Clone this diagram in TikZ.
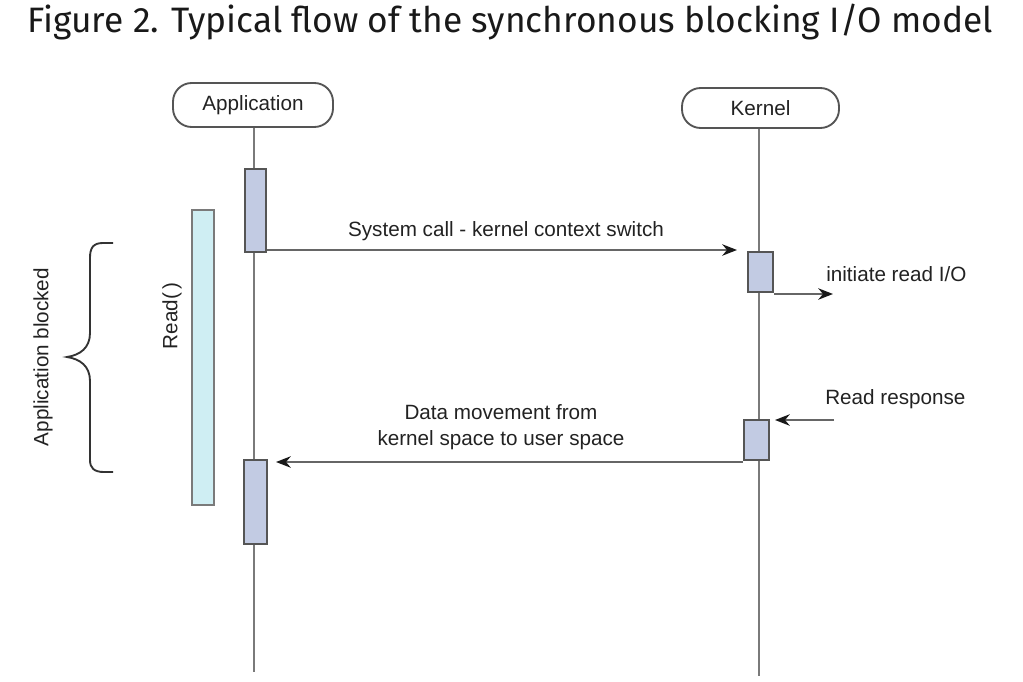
\documentclass[tikz,border=0pt]{standalone}
\usepackage{fontspec}
\setmainfont{Liberation Sans}
\newfontfamily\titlefont{Fira Sans}
\usetikzlibrary{arrows.meta}
\definecolor{actfill}{HTML}{C2CBE3}
\definecolor{actdraw}{HTML}{555555}
\definecolor{readfill}{HTML}{CFEEF3}
\definecolor{linegray}{HTML}{7A7A7A}
\definecolor{arrgray}{HTML}{666666}
\definecolor{txt}{HTML}{222222}
\tikzset{
  header/.style={draw=actdraw, line width=1.4pt, rounded corners=14pt, inner sep=0pt, text=txt, font=\fontsize{15.5}{18}\selectfont},
  act/.style={draw=actdraw, fill=actfill, line width=1.5pt, inner sep=0pt},
  readbar/.style={draw=linegray, fill=readfill, line width=1.5pt, inner sep=0pt},
  lifeline/.style={draw=linegray, line width=2pt},
  msg/.style={draw=arrgray, line width=2pt, -{Stealth[length=11pt,width=8.5pt,inset=3.5pt,color=black!90]}},
  lbl/.style={text=txt, inner sep=0pt, font=\fontsize{15.5}{19}\selectfont},
}
\begin{document}
\begin{tikzpicture}[x=0.75pt,y=-0.75pt]
\useasboundingbox (0,0) rectangle (1023,681);
% title
\node[anchor=base west, inner sep=0pt, text=black!90, font=\titlefont\fontsize{26.5}{30}\selectfont] (title) at (27,33) {Figure 2. Typical flow of the synchronous blocking I/O model};
% headers
\node[header, minimum width=120pt, minimum height=33pt] (app) at (253,105) {Application};
\node[header, minimum width=117.75pt, minimum height=30pt] (ker) at (760.5,108) {Kernel};
% lifeline ends
\coordinate (append) at (254,672);
\coordinate (kerend) at (759,676);
\draw[lifeline] (app.south -| append) -- (append);
\draw[lifeline] (ker.south -| kerend) -- (kerend);
% read bar
\node[readbar, minimum width=16.5pt, minimum height=221.25pt] (readbar) at (203,357.5) {};
% activations
\node[act, minimum width=15.75pt, minimum height=62.25pt] (act1) at (255.5,210.5) {};
\node[act, minimum width=18.75pt, minimum height=30pt] (kact1) at (760.5,272) {};
\node[act, minimum width=18.75pt, minimum height=30pt] (kact2) at (756.5,440) {};
\node[act, minimum width=17.25pt, minimum height=63pt] (act2) at (255.5,502) {};
% message arrows
\coordinate (m1end) at (737,250);
\draw[msg] (act1.south east |- m1end) -- (m1end);
\coordinate (m2end) at (833,294);
\draw[msg] (kact1.south east |- m2end) -- (m2end);
\coordinate (m3start) at (834,420);
\coordinate (m3end) at (775,420);
\draw[msg] (m3start) -- (m3end);
\coordinate (m4end) at (276,462);
\draw[msg] (kact2.south west |- m4end) -- (m4end);
% labels
\node[lbl] (l1) at (506,231) {System call - kernel context switch};
\node[lbl, anchor=west] (l2) at (826,274) {initiate read I/O};
\node[lbl, anchor=west] (l3) at (825,399) {Read response};
\node[lbl, align=center] (l4) at (501,427) {Data movement from\\kernel space to user space};
\node[lbl, rotate=90] (l5) at (43,357) {Application blocked};
\node[lbl, rotate=90] (l6) at (172,316) {Read(\,)};
% brace
\draw[draw=black!80, line width=1.4pt] (113,243) -- (103,243) .. controls (93,243) and (90,248) .. (90,258) -- (90,333) .. controls (90,348) and (80,355) .. (67,357) .. controls (80,359) and (90,366) .. (90,381) -- (90,460) .. controls (90,468) and (94,472) .. (104,472) -- (113,472);
\end{tikzpicture}
\end{document}
